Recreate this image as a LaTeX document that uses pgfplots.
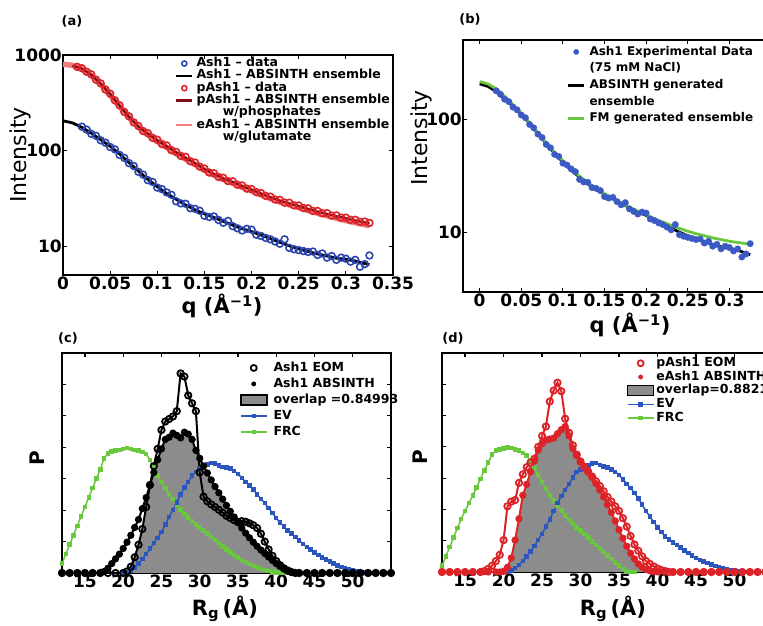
\documentclass[border=0pt]{standalone}
\usepackage{pgfplots}
\pgfplotsset{compat=1.18}
\usepackage{pgfplotstable}
\usepackage{fontspec}
\setmainfont{DejaVu Sans}

\definecolor{ashblue}{RGB}{45,70,175}
\definecolor{dotblue}{RGB}{60,90,195}
\definecolor{pred}{RGB}{220,35,40}
\definecolor{darkred}{RGB}{125,10,20}
\definecolor{salmon}{RGB}{242,125,125}
\definecolor{evblue}{RGB}{45,85,190}
\definecolor{frcgreen}{RGB}{105,200,60}

\pgfplotsset{
  panel/.style={
    scale only axis, anchor=south west, clip=false,
    axis line style={line width=2pt},
    tick style={line width=1.2pt, black},
    tick align=inside, major tick length=4pt,
    xtick pos=both, ytick pos=both,
    tick label style={font=\bfseries\fontsize{17}{17}\selectfont},
    xticklabel style={inner ysep=2pt},
    yticklabel style={inner xsep=1pt},
    /pgf/number format/assume math mode=true,
    legend cell align=left,
    legend style={draw=none, fill=none, anchor=north west, inner sep=0pt,
      font=\bfseries\fontsize{12.5}{12.5}\selectfont,
      nodes={inner xsep=0pt, inner ysep=0pt, text height=9.3pt, text depth=3pt}},
  },
  shortleg/.style={legend image code/.code={\draw[mark repeat=2,mark phase=2,##1] plot coordinates {(0pt,0pt) (8pt,0pt) (16pt,0pt)};}},
  longleg/.style={legend image code/.code={\draw[mark repeat=2,mark phase=2,##1] plot coordinates {(0pt,0pt) (13pt,0pt) (26pt,0pt)};}},
  rgpanel/.style={panel, longleg, xmin=12, xmax=55, ymin=0, ymax=0.07,
    xtick={15,20,25,30,35,40,45,50}, xticklabels={15,20,25,30,35,40,45,50},
    ytick={0.01,0.02,0.03,0.04,0.05,0.06}, yticklabels={}, scaled y ticks=false},
  evstyle/.style={evblue, line width=1.5pt, mark=square*, mark size=1.5pt},
  frcstyle/.style={frcgreen, line width=1.5pt, mark=square*, mark size=1.5pt},
}

% Ash1 SAXS data (same experiment in a and b)
\pgfplotstableread{
q I
0.020 178
0.025 166
0.030 150
0.035 143
0.040 128
0.045 121
0.050 109
0.055 103
0.060 90
0.065 84
0.070 74
0.075 69
0.080 60
0.085 56
0.090 49
0.095 47
0.100 41
0.105 39.5
0.110 36.5
0.115 34.5
0.120 29.5
0.125 28
0.130 27.8
0.135 25
0.140 24.6
0.145 23.5
0.150 20.8
0.155 20.2
0.160 20.5
0.165 18.8
0.170 17.6
0.175 18.4
0.180 16.2
0.185 15.4
0.190 14.6
0.195 15.2
0.200 14.9
0.205 13.2
0.210 12.8
0.215 12.2
0.220 11.8
0.225 11.2
0.230 10.6
0.235 11.8
0.240 9.6
0.245 9.3
0.250 9.1
0.255 8.9
0.260 8.7
0.265 8.8
0.270 8.1
0.275 8.4
0.280 7.6
0.285 7.9
0.290 7.2
0.295 7.6
0.300 7.4
0.305 6.9
0.310 7.2
0.315 6.1
0.320 6.5
0.325 8.0
}\ashdata

\pgfplotstableread{
q I
0.000 205
0.010 195
0.020 175
0.030 152
0.040 130
0.050 111
0.060 92
0.070 75
0.080 61
0.090 50
0.100 42
0.110 35.5
0.120 31
0.130 27
0.140 24
0.150 21.8
0.160 20
0.170 18.2
0.180 16.6
0.190 15.3
0.200 14.2
0.210 13.1
0.220 12
0.230 11
0.240 10.1
0.250 9.4
0.260 8.8
0.270 8.3
0.280 7.9
0.290 7.5
0.300 7.3
0.310 7.0
0.320 6.6
0.325 6.4
}\ashfit

\begin{document}
\begin{tikzpicture}
\useasboundingbox (0,0) rectangle (763pt,626pt);

% ---------------- (a)
\begin{axis}[panel, shortleg, at={(63pt,351pt)}, width=330pt, height=220pt,
  xmin=0, xmax=0.35, ymode=log, ymin=5, ymax=1000,
  xtick={0,0.05,0.1,0.15,0.2,0.25,0.3,0.35}, xticklabels={0,0.05,0.1,0.15,0.2,0.25,0.3,0.35},
  ytick={10,100,1000}, yticklabels={10,100,1000}, yminorticks=false,
  legend style={at={(axis description cs:0.339,0.99)}, row sep=0pt, column sep=3pt},
]
\addplot[forget plot, only marks, mark=o, mark size=3.4pt, ashblue, line width=1.6pt] table {\ashdata};
\addplot[forget plot, black, line width=2.8pt] table {\ashfit};
\addplot[forget plot, salmon, line width=5.5pt] coordinates {
(0,800) (0.01,780) (0.02,715) (0.03,612) (0.04,492) (0.05,382) (0.06,290) (0.07,222)
(0.08,176) (0.09,147) (0.10,125) (0.11,108) (0.12,93) (0.13,81.5) (0.14,71.5) (0.15,62.5)
(0.16,55.5) (0.17,50) (0.18,45.5) (0.19,41.5) (0.20,38) (0.21,34.5) (0.22,31.5) (0.23,29)
(0.24,27) (0.25,25.3) (0.26,23.6) (0.27,22.1) (0.28,20.8) (0.29,19.6) (0.30,18.5)
(0.31,17.6) (0.32,16.8) (0.325,16.4)};
\addplot[forget plot, only marks, mark=o, mark size=3.4pt, pred, line width=1.6pt] coordinates {
(0.015,752) (0.02,728) (0.025,668) (0.03,628) (0.035,552) (0.04,505) (0.045,436) (0.05,394)
(0.055,336) (0.06,298) (0.065,254) (0.07,228) (0.075,197) (0.08,181) (0.085,160) (0.09,152)
(0.095,136) (0.1,130) (0.105,117) (0.11,113) (0.115,101) (0.12,97) (0.125,88) (0.13,86)
(0.135,77.5) (0.14,75) (0.145,68) (0.15,65) (0.155,59) (0.16,58) (0.165,53) (0.17,52)
(0.175,48) (0.18,47.8) (0.185,44) (0.19,43.2) (0.195,40) (0.2,39.6) (0.205,36.8) (0.21,36)
(0.215,33.6) (0.22,33) (0.225,30.8) (0.23,30.5) (0.235,28.6) (0.24,28.5) (0.245,26.8)
(0.25,26.7) (0.255,25.1) (0.26,24.9) (0.265,23.4) (0.27,23.4) (0.275,22.1) (0.28,22.2)
(0.285,20.9) (0.29,21) (0.295,19.9) (0.3,19.9) (0.305,18.9) (0.31,18.9) (0.315,18.0)
(0.32,18.1) (0.325,17.5)};
\addplot[forget plot, darkred, line width=2.2pt] coordinates {
(0.01,775) (0.02,720) (0.03,620) (0.04,500) (0.05,390) (0.06,295) (0.07,225) (0.08,178)
(0.09,150) (0.10,128) (0.11,111) (0.12,96) (0.13,84) (0.14,74) (0.15,64) (0.16,57) (0.17,51)
(0.18,47) (0.19,42.5) (0.20,39) (0.21,35.5) (0.22,32.5) (0.23,30) (0.24,28) (0.25,26.3)
(0.26,24.5) (0.27,23) (0.28,21.8) (0.29,20.6) (0.30,19.6) (0.31,18.6) (0.32,17.8) (0.325,17.4)};
\addlegendimage{only marks, mark=o, mark size=2.6pt, ashblue, line width=1.5pt}
\addlegendentry{Ash1 – data}
\addlegendimage{black, line width=2.5pt}
\addlegendentry{Ash1 – ABSINTH ensemble}
\addlegendimage{only marks, mark=o, mark size=2.6pt, pred, line width=1.5pt}
\addlegendentry{pAsh1 – data}
\addlegendimage{darkred, line width=2.5pt}
\addlegendentry{pAsh1 – ABSINTH ensemble}
\addlegendimage{empty legend}
\addlegendentry{\hspace*{2.1em}w/phosphates}
\addlegendimage{salmon, line width=2.5pt}
\addlegendentry{eAsh1 – ABSINTH ensemble}
\addlegendimage{empty legend}
\addlegendentry{\hspace*{2.1em}w/glutamate}
\end{axis}

% ---------------- (b)
\begin{axis}[panel, shortleg, at={(463pt,334pt)}, width=308pt, height=252pt,
  xmin=-0.02, xmax=0.35, ymode=log, ymin=3, ymax=500,
  xtick={0,0.05,0.1,0.15,0.2,0.25,0.3}, xticklabels={0,0.05,0.1,0.15,0.2,0.25,0.3},
  ytick={10,100}, yticklabels={10,100}, yminorticks=false,
  legend style={at={(axis description cs:0.337,0.978)}, row sep=4.4pt, column sep=4pt,
    font=\bfseries\fontsize{12}{12}\selectfont},
]
\addplot[forget plot, only marks, mark=*, mark size=3.2pt, dotblue] table {\ashdata};
\addplot[forget plot, black, line width=2.8pt] table {\ashfit};
\addplot[forget plot, frcgreen, line width=2.8pt] coordinates {
(0,215) (0.01,205) (0.02,185) (0.03,160) (0.04,135) (0.05,113) (0.06,93) (0.07,76) (0.08,62)
(0.09,51) (0.10,43) (0.11,36.5) (0.12,31.5) (0.13,27.5) (0.14,24.5) (0.15,22) (0.16,20)
(0.17,18.3) (0.18,16.8) (0.19,15.5) (0.20,14.4) (0.21,13.3) (0.22,12.4) (0.23,11.6)
(0.24,10.9) (0.25,10.3) (0.26,9.8) (0.27,9.4) (0.28,9.0) (0.29,8.7) (0.30,8.4) (0.31,8.2)
(0.32,8.0) (0.325,7.9)};
\addlegendimage{only marks, mark=*, mark size=2.6pt, dotblue}
\addlegendentry{Ash1 Experimental Data}
\addlegendimage{empty legend}
\addlegendentry{(75 mM NaCl)}
\addlegendimage{black, line width=2.5pt}
\addlegendentry{ABSINTH generated}
\addlegendimage{empty legend}
\addlegendentry{ensemble}
\addlegendimage{frcgreen, line width=2.5pt}
\addlegendentry{FM generated ensemble}
\end{axis}

% ---------------- (c)
\begin{axis}[rgpanel, at={(62pt,53pt)}, width=329pt, height=220pt,
  legend style={at={(axis description cs:0.5405,0.961)}, row sep=3.7pt, column sep=6pt},
]
\addplot[forget plot, fill=black!45, draw=none] coordinates {
(20,0) (20.5,0.0005) (21,0.002) (21.5,0.005) (22,0.009) (22.5,0.014) (23,0.021) (23.5,0.028)
(24,0.032) (24.5,0.036) (25,0.0395) (25.5,0.0425) (26,0.0432) (26.5,0.0445) (27,0.0438)
(27.5,0.043) (28,0.0448) (28.5,0.0442) (29,0.0425) (29.5,0.039) (30,0.0365) (30.5,0.034)
(31,0.0318) (31.5,0.0296) (32,0.0275) (32.5,0.0255) (33,0.0235) (33.5,0.0215) (34,0.0196)
(34.5,0.0178) (35,0.016) (35.5,0.0143) (36,0.0127) (36.5,0.0112) (37,0.0098) (37.5,0.0085)
(38,0.0073) (38.5,0.0062) (39,0.0051) (39.5,0.004) (40,0.003) (40.5,0.0021) (41,0.0013)
(41.5,0.0006) (42,0.0002) (42.5,0)} \closedcycle;
\addplot[forget plot, frcstyle] coordinates {
(12,0.003) (12.5,0.006) (13,0.009) (13.5,0.012) (14,0.015) (14.5,0.018) (15,0.021) (15.5,0.024)
(16,0.027) (16.5,0.030) (17,0.033) (17.5,0.0365) (18,0.038) (18.5,0.0386) (19,0.0389)
(19.5,0.0391) (20,0.0394) (20.5,0.0397) (21,0.0395) (21.5,0.0392) (22,0.039) (22.5,0.0385)
(23,0.0378) (23.5,0.036) (24,0.0335) (24.5,0.031) (25,0.029) (25.5,0.027) (26,0.025)
(26.5,0.0235) (27,0.0218) (27.5,0.0202) (28,0.0188) (28.5,0.0176) (29,0.0165) (29.5,0.0155)
(30,0.0145) (30.5,0.0135) (31,0.0125) (31.5,0.0115) (32,0.0105) (32.5,0.0095) (33,0.0084)
(33.5,0.0074) (34,0.0065) (34.5,0.0057) (35,0.0049) (35.5,0.0042) (36,0.0035) (36.5,0.0029)
(37,0.0023) (37.5,0.0018) (38,0.0013) (38.5,0.0009) (39,0.0006) (39.5,0.0004) (40,0.0002)
(40.5,0.0001) (41,0) (42,0) (43,0)};
\addplot[forget plot, evstyle] coordinates {
(20,0) (20.5,0.0003) (21,0.0008) (21.5,0.0018) (22,0.003) (22.5,0.0045) (23,0.006) (23.5,0.0078)
(24,0.0095) (24.5,0.0112) (25,0.013) (25.5,0.0155) (26,0.0178) (26.5,0.02) (27,0.0225)
(27.5,0.025) (28,0.0272) (28.5,0.029) (29,0.031) (29.5,0.0322) (30,0.0332) (30.5,0.0338)
(31,0.0345) (31.5,0.035) (32,0.0348) (32.5,0.0342) (33,0.0338) (33.5,0.0336) (34,0.0333)
(34.5,0.0325) (35,0.0315) (35.5,0.0303) (36,0.029) (36.5,0.0278) (37,0.0265) (37.5,0.025)
(38,0.0236) (38.5,0.0222) (39,0.0207) (39.5,0.0191) (40,0.0175) (40.5,0.016) (41,0.0148)
(41.5,0.0136) (42,0.0125) (42.5,0.0114) (43,0.0103) (43.5,0.0093) (44,0.0083) (44.5,0.0074)
(45,0.0066) (45.5,0.0058) (46,0.005) (46.5,0.0043) (47,0.0036) (47.5,0.003) (48,0.0024)
(48.5,0.0019) (49,0.0015) (49.5,0.0011) (50,0.0008) (50.5,0.0005) (51,0.0003) (51.5,0.0002)
(52,0.0001) (52.5,0) (53,0)};
% ABSINTH
\addplot[forget plot, black, line width=2pt, mark=*, mark size=2.6pt] coordinates {
(12,0) (13,0) (14,0) (15,0) (16,0) (17,0) (17.5,0.0005) (18,0.0015) (18.5,0.003) (19,0.0045)
(19.5,0.006) (20,0.0078) (20.5,0.0098) (21,0.012) (21.5,0.0145) (22,0.017) (22.5,0.0205)
(23,0.024) (23.5,0.028) (24,0.032) (24.5,0.036) (25,0.0395) (25.5,0.0425) (26,0.0432)
(26.5,0.0445) (27,0.0438) (27.5,0.043) (28,0.0448) (28.5,0.0442) (29,0.0425) (29.5,0.039)
(30,0.0365) (30.5,0.034) (31,0.0318) (31.5,0.0296) (32,0.0275) (32.5,0.0255) (33,0.0235)
(33.5,0.0215) (34,0.0196) (34.5,0.0178) (35,0.016) (35.5,0.0143) (36,0.0127) (36.5,0.0112)
(37,0.0098) (37.5,0.0085) (38,0.0073) (38.5,0.0062) (39,0.0051) (39.5,0.004) (40,0.003)
(40.5,0.0021) (41,0.0013) (41.5,0.0006) (42,0.0002) (42.5,0) (43,0) (44,0) (45,0) (46,0)
(47,0) (48,0) (49,0) (50,0) (51,0) (52,0) (53,0) (54,0) (55,0)};
% EOM
\addplot[forget plot, black, line width=2pt, mark=o, mark size=3.2pt, mark options={line width=1.8pt}] coordinates {
(12,0) (13,0) (14,0) (15,0) (16,0) (17,0) (18,0) (19,0) (20,0) (20.5,0.0005) (21,0.002)
(21.5,0.005) (22,0.009) (22.5,0.014) (23,0.021) (23.5,0.028) (24,0.034) (24.5,0.0395)
(25,0.0455) (25.5,0.0482) (26,0.049) (26.5,0.0498) (27,0.0515) (27.5,0.0635) (28,0.0625)
(28.5,0.0565) (29,0.054) (29.5,0.0515) (30,0.032) (30.5,0.0243) (31,0.0228) (31.5,0.0218)
(32,0.021) (32.5,0.0201) (33,0.0192) (33.5,0.0182) (34,0.0175) (34.5,0.0168) (35,0.0162)
(35.5,0.0165) (36,0.0163) (36.5,0.0158) (37,0.0152) (37.5,0.0143) (38,0.0125) (38.5,0.01)
(39,0.0075) (39.5,0.0055) (40,0.0038) (40.5,0.0025) (41,0.0015) (41.5,0.0008) (42,0.0003)
(42.5,0) (43,0) (44,0) (45,0) (46,0) (47,0) (48,0) (49,0) (50,0) (51,0) (52,0) (53,0) (54,0) (55,0)};
\addlegendimage{only marks, black, mark=o, mark size=3pt, line width=1.8pt}
\addlegendentry{Ash1 EOM}
\addlegendimage{only marks, black, mark=*, mark size=2.2pt}
\addlegendentry{Ash1 ABSINTH}
\addlegendimage{legend image code/.code={\draw[fill=black!45, draw=black, line width=1.5pt] (0pt,-5pt) rectangle (26pt,5pt);}}
\addlegendentry{overlap =0.84993}
\addlegendimage{evstyle}
\addlegendentry{EV}
\addlegendimage{frcstyle}
\addlegendentry{FRC}
\end{axis}

% ---------------- (d)
\begin{axis}[rgpanel, at={(442pt,54pt)}, width=331pt, height=219pt,
  legend style={at={(axis description cs:0.558,0.982)}, row sep=1.4pt, column sep=2pt},
]
\addplot[forget plot, fill=black!45, draw=none] coordinates {
(20,0) (20.5,0.0015) (21,0.0045) (21.5,0.0102) (22,0.017) (22.5,0.0245) (23,0.028) (23.5,0.032)
(24,0.0355) (24.5,0.039) (25,0.041) (25.5,0.0422) (26,0.0425) (26.5,0.0428) (27,0.0442)
(27.5,0.0455) (28,0.0465) (28.5,0.0435) (29,0.0395) (29.5,0.0372) (30,0.0352) (30.5,0.0335)
(31,0.032) (31.5,0.0302) (32,0.0282) (32.5,0.0262) (33,0.024) (33.5,0.0215) (34,0.019)
(34.5,0.0163) (35,0.0135) (35.5,0.0108) (36,0.0082) (36.5,0.006) (37,0.0042) (37.5,0.0026)
(38,0.0015) (38.5,0.0008) (39,0.0004) (39.5,0.0001) (40,0)} \closedcycle;
\addplot[forget plot, frcstyle] coordinates {
(12,0.002) (12.5,0.005) (13,0.008) (13.5,0.011) (14,0.014) (14.5,0.017) (15,0.0195) (15.5,0.022)
(16,0.0245) (16.5,0.027) (17,0.0298) (17.5,0.0325) (18,0.035) (18.5,0.0375) (19,0.0388)
(19.5,0.0392) (20,0.0395) (20.5,0.0398) (21,0.0396) (21.5,0.0392) (22,0.0388) (22.5,0.038)
(23,0.0372) (23.5,0.0355) (24,0.0332) (24.5,0.031) (25,0.0288) (25.5,0.0265) (26,0.0245)
(26.5,0.0228) (27,0.0212) (27.5,0.0196) (28,0.0181) (28.5,0.0167) (29,0.0155) (29.5,0.0143)
(30,0.0132) (30.5,0.0121) (31,0.011) (31.5,0.0098) (32,0.0087) (32.5,0.0075) (33,0.0064)
(33.5,0.0053) (34,0.0042) (34.5,0.0031) (35,0.002) (35.5,0.001) (36,0.0003) (36.5,0) (37,0)};
\addplot[forget plot, evstyle] coordinates {
(20.5,0) (21,0.0005) (21.5,0.0012) (22,0.0022) (22.5,0.0035) (23,0.005) (23.5,0.0066) (24,0.0083)
(24.5,0.0102) (25,0.0122) (25.5,0.0145) (26,0.0168) (26.5,0.0195) (27,0.022) (27.5,0.0243)
(28,0.0262) (28.5,0.0282) (29,0.0302) (29.5,0.032) (30,0.0328) (30.5,0.0334) (31,0.034)
(31.5,0.0346) (32,0.0348) (32.5,0.0342) (33,0.0337) (33.5,0.0334) (34,0.0328) (34.5,0.032)
(35,0.031) (35.5,0.0296) (36,0.0282) (36.5,0.0268) (37,0.0253) (37.5,0.0235) (38,0.0215)
(38.5,0.0195) (39,0.0177) (39.5,0.016) (40,0.0143) (40.5,0.0128) (41,0.0113) (41.5,0.0104)
(42,0.0095) (42.5,0.0087) (43,0.0078) (43.5,0.0069) (44,0.006) (44.5,0.0052) (45,0.0045)
(45.5,0.0039) (46,0.0034) (46.5,0.0029) (47,0.0024) (47.5,0.0019) (48,0.0015) (48.5,0.0012)
(49,0.0009) (49.5,0.0006) (50,0.0004) (50.5,0.0002) (51,0.0001) (51.5,0) (52,0)};
% eAsh1 ABSINTH
\addplot[forget plot, pred, line width=2pt, mark=*, mark size=2.6pt] coordinates {
(12,0) (13,0) (14,0) (15,0) (16,0) (17,0) (18,0) (19,0) (19.5,0) (20,0.0002) (20.5,0.0015)
(21,0.0045) (21.5,0.0102) (22,0.017) (22.5,0.0245) (23,0.028) (23.5,0.032) (24,0.0355)
(24.5,0.039) (25,0.041) (25.5,0.0422) (26,0.0425) (26.5,0.0428) (27,0.0442) (27.5,0.0455)
(28,0.0465) (28.5,0.0435) (29,0.0395) (29.5,0.0372) (30,0.0355) (30.5,0.0338) (31,0.0322)
(31.5,0.0302) (32,0.0282) (32.5,0.0262) (33,0.024) (33.5,0.0215) (34,0.019) (34.5,0.0163)
(35,0.0135) (35.5,0.0108) (36,0.0082) (36.5,0.006) (37,0.0042) (37.5,0.0026) (38,0.0015)
(38.5,0.0008) (39,0.0004) (39.5,0.0001) (40,0) (41,0) (42,0) (43,0) (44,0) (45,0) (46,0)
(47,0) (48,0) (49,0) (50,0) (51,0) (52,0) (53,0) (54,0) (55,0)};
% pAsh1 EOM
\addplot[forget plot, pred, line width=2pt, mark=o, mark size=3.2pt, mark options={line width=1.8pt}] coordinates {
(12,0) (13,0) (14,0) (15,0) (16,0) (17,0) (17.5,0.0003) (18,0.001) (18.5,0.002) (19,0.0035)
(19.5,0.0055) (20,0.0102) (20.5,0.021) (21,0.0225) (21.5,0.023) (22,0.0285) (22.5,0.0312)
(23,0.0335) (23.5,0.035) (24,0.0362) (24.5,0.040) (25,0.0435) (25.5,0.0465) (26,0.0545)
(26.5,0.058) (27,0.0605) (27.5,0.0578) (28,0.049) (28.5,0.0445) (29,0.0405) (29.5,0.0375)
(30,0.0352) (30.5,0.0335) (31,0.032) (31.5,0.0305) (32,0.029) (32.5,0.0275) (33,0.0258)
(33.5,0.024) (34,0.0225) (34.5,0.021) (35,0.0195) (35.5,0.0172) (36,0.0145) (36.5,0.0115)
(37,0.0088) (37.5,0.0068) (38,0.005) (38.5,0.0035) (39,0.0026) (39.5,0.0018) (40,0.0011)
(40.5,0.0006) (41,0.0003) (41.5,0) (42,0) (43,0) (44,0) (45,0) (46,0) (47,0) (48,0) (49,0)
(50,0) (51,0) (52,0) (53,0) (54,0) (55,0)};
\addlegendimage{only marks, pred, mark=o, mark size=3pt, line width=1.8pt}
\addlegendentry{pAsh1 EOM}
\addlegendimage{only marks, pred, mark=*, mark size=2.2pt}
\addlegendentry{eAsh1 ABSINTH}
\addlegendimage{legend image code/.code={\draw[fill=black!45, draw=black, line width=1.5pt] (0pt,-5pt) rectangle (26pt,5pt);}}
\addlegendentry{overlap=0.88212}
\addlegendimage{evstyle}
\addlegendentry{EV}
\addlegendimage{frcstyle}
\addlegendentry{FRC}
\end{axis}

% axis titles and panel letters
\node[rotate=90, font=\fontsize{22}{22}\selectfont] at (20.5pt,471pt) {Intensity};
\node[rotate=90, font=\fontsize{22}{22}\selectfont] at (421.5pt,488pt) {Intensity};
\node[font=\bfseries\fontsize{21}{21}\selectfont] at (222pt,320pt) {q (Å\textsuperscript{−1})};
\node[font=\bfseries\fontsize{21}{21}\selectfont] at (630pt,301pt) {q (Å\textsuperscript{−1})};
\node[rotate=90, font=\bfseries\fontsize{20}{20}\selectfont] at (37.5pt,168pt) {P};
\node[rotate=90, font=\bfseries\fontsize{20}{20}\selectfont] at (420pt,169pt) {P};
\node[font=\bfseries\fontsize{21}{21}\selectfont] at (225pt,17pt) {R\textsubscript{g}\,(Å)};
\node[font=\bfseries\fontsize{21}{21}\selectfont] at (613pt,17pt) {R\textsubscript{g}\,(Å)};
\node[font=\bfseries\fontsize{13}{13}\selectfont] at (72pt,605pt) {(a)};
\node[font=\bfseries\fontsize{13}{13}\selectfont] at (470pt,607pt) {(b)};
\node[font=\bfseries\fontsize{13}{13}\selectfont] at (68pt,288pt) {(c)};
\node[font=\bfseries\fontsize{13}{13}\selectfont] at (453pt,288pt) {(d)};
\end{tikzpicture}
\end{document}
